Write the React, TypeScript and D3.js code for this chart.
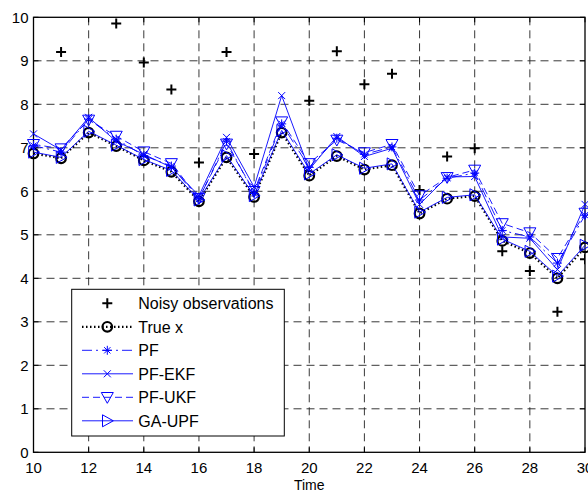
import { useEffect, useRef } from "react";
import * as d3 from "d3";

// time steps shown on the axis
const time = [10, 11, 12, 13, 14, 15, 16, 17, 18, 19, 20, 21, 22, 23, 24, 25, 26, 27, 28, 29, 30];

// noisy observations (t = 11..30), two of them fall above the axis limit
const obsTime = [11, 12, 13, 14, 15, 16, 17, 18, 19, 20, 21, 22, 23, 24, 25, 26, 27, 28, 29, 30];
const noisyObs = [9.2, 10.4, 9.86, 8.96, 8.34, 6.66, 9.2, 6.86, 10.6, 8.08, 9.22, 8.46, 8.7, 6.03, 6.8, 6.99, 4.62, 4.17, 3.23, 4.44];

const trueX = [6.87, 6.76, 7.35, 7.04, 6.71, 6.45, 5.77, 6.78, 5.87, 7.35, 6.36, 6.81, 6.5, 6.6, 5.49, 5.83, 5.89, 4.86, 4.58, 4.0, 4.71];
const pf = [7.05, 6.9, 7.66, 7.2, 6.82, 6.58, 5.82, 7.15, 5.95, 7.55, 6.55, 7.22, 6.85, 7.02, 5.8, 6.3, 6.42, 5.1, 4.95, 4.35, 5.45];
const pfEkf = [7.32, 6.95, 7.7, 7.15, 6.85, 6.55, 5.9, 7.24, 6.1, 8.2, 6.5, 7.26, 6.8, 6.99, 5.7, 6.33, 6.34, 4.95, 4.92, 4.2, 5.7];
const pfUkf = [7.08, 6.98, 7.64, 7.27, 6.91, 6.64, 5.84, 7.09, 6.0, 7.6, 6.64, 7.18, 6.89, 7.08, 5.9, 6.32, 6.49, 5.26, 5.05, 4.46, 5.5];
const gaUpf = [6.9, 6.78, 7.38, 7.06, 6.73, 6.48, 5.8, 6.82, 5.9, 7.4, 6.4, 6.84, 6.53, 6.63, 5.52, 5.86, 5.92, 4.9, 4.62, 4.05, 4.76];

const xTicks = [10, 12, 14, 16, 18, 20, 22, 24, 26, 28, 30];
const yTicks = [0, 1, 2, 3, 4, 5, 6, 7, 8, 9, 10];

const legendLabels = ["Noisy observations", "True x", "PF", "PF-EKF", "PF-UKF", "GA-UPF"];

const FONT = "'Liberation Sans', Arial, sans-serif";

function App() {
    const ref = useRef<SVGSVGElement>(null);

    useEffect(() => {
        document.body.style.margin = "0";

        const width = 588;
        const height = 492;
        const left = 33.5, right = 585, top = 17.3, bottom = 452.3;

        const x = d3.scaleLinear().domain([10, 30]).range([left, right]);
        const y = d3.scaleLinear().domain([0, 10]).range([bottom, top]);

        const svg = d3.select(ref.current);
        svg.selectAll("*").remove();
        svg.attr("width", width).attr("height", height);

        svg.append("rect").attr("width", width).attr("height", height).attr("fill", "white");

        svg.append("defs").append("clipPath").attr("id", "plotClip")
            .append("rect")
            .attr("x", left).attr("y", top)
            .attr("width", right - left).attr("height", bottom - top);

        // grid
        const grid = svg.append("g")
            .attr("stroke", "#222")
            .attr("stroke-width", 0.9)
            .attr("stroke-dasharray", "8,5");
        grid.selectAll("line.gx")
            .data(xTicks.slice(1, -1))
            .join("line")
            .attr("x1", d => x(d)).attr("x2", d => x(d))
            .attr("y1", top).attr("y2", bottom);
        grid.selectAll("line.gy")
            .data(yTicks.slice(1, -1))
            .join("line")
            .attr("class", "gy")
            .attr("x1", left).attr("x2", right)
            .attr("y1", d => y(d)).attr("y2", d => y(d));

        // ticks on all four sides, pointing inwards
        const ticks = svg.append("g").attr("stroke", "black").attr("stroke-width", 1);
        xTicks.forEach(t => {
            ticks.append("line").attr("x1", x(t)).attr("x2", x(t)).attr("y1", bottom).attr("y2", bottom - 5);
            ticks.append("line").attr("x1", x(t)).attr("x2", x(t)).attr("y1", top).attr("y2", top + 5);
        });
        yTicks.forEach(t => {
            ticks.append("line").attr("x1", left).attr("x2", left + 5).attr("y1", y(t)).attr("y2", y(t));
            ticks.append("line").attr("x1", right).attr("x2", right - 5).attr("y1", y(t)).attr("y2", y(t));
        });

        // box
        svg.append("rect")
            .attr("x", left).attr("y", top)
            .attr("width", right - left).attr("height", bottom - top)
            .attr("fill", "none").attr("stroke", "black").attr("stroke-width", 1.3);

        // tick labels
        svg.append("g")
            .attr("font-family", FONT).attr("font-size", 15).attr("text-anchor", "middle")
            .selectAll("text")
            .data(xTicks)
            .join("text")
            .attr("x", d => x(d)).attr("y", 473)
            .text(d => d);
        svg.append("g")
            .attr("font-family", FONT).attr("font-size", 15).attr("text-anchor", "end")
            .selectAll("text")
            .data(yTicks)
            .join("text")
            .attr("x", 28.5).attr("y", d => y(d) + 5.3)
            .text(d => d);
        svg.append("text")
            .attr("x", (left + right) / 2).attr("y", 490)
            .attr("text-anchor", "middle")
            .attr("font-family", FONT).attr("font-size", 14)
            .text("Time");

        const lineGen = (vals: number[]) =>
            d3.line<number>().x((_, i) => x(time[i])).y(v => y(v))(vals);

        const blue = "#0000ff";

        // marker drawers
        const plus = (g: any, cx: number, cy: number) => {
            g.append("path").attr("d", `M${cx - 5},${cy}H${cx + 5}M${cx},${cy - 5}V${cy + 5}`)
                .attr("stroke", "black").attr("stroke-width", 2).attr("fill", "none");
        };
        const circle = (g: any, cx: number, cy: number) => {
            g.append("circle").attr("cx", cx).attr("cy", cy).attr("r", 4.8)
                .attr("stroke", "black").attr("stroke-width", 2.2).attr("fill", "none");
        };
        const star = (g: any, cx: number, cy: number) => {
            const r = 4.5, k = r * 0.7;
            g.append("path")
                .attr("d", `M${cx - r},${cy}H${cx + r}M${cx},${cy - r}V${cy + r}M${cx - k},${cy - k}L${cx + k},${cy + k}M${cx - k},${cy + k}L${cx + k},${cy - k}`)
                .attr("stroke", blue).attr("stroke-width", 1).attr("fill", "none");
        };
        const cross = (g: any, cx: number, cy: number) => {
            const k = 3.5;
            g.append("path")
                .attr("d", `M${cx - k},${cy - k}L${cx + k},${cy + k}M${cx - k},${cy + k}L${cx + k},${cy - k}`)
                .attr("stroke", blue).attr("stroke-width", 1).attr("fill", "none");
        };
        const triDown = (g: any, cx: number, cy: number) => {
            const r = 6;
            g.append("path")
                .attr("d", `M${cx - r},${cy - r * 0.8}L${cx + r},${cy - r * 0.8}L${cx},${cy + r}Z`)
                .attr("stroke", blue).attr("stroke-width", 1).attr("fill", "none");
        };
        const triRight = (g: any, cx: number, cy: number) => {
            const r = 6;
            g.append("path")
                .attr("d", `M${cx - r * 0.8},${cy - r}L${cx + r},${cy}L${cx - r * 0.8},${cy + r}Z`)
                .attr("stroke", blue).attr("stroke-width", 1).attr("fill", "none");
        };

        const series = [
            { vals: trueX, color: "black", width: 2.2, dash: "1.5,2.5", marker: circle },
            { vals: pf, color: blue, width: 0.9, dash: "10,4,2,4", marker: star },
            { vals: pfEkf, color: blue, width: 0.9, dash: null, marker: cross },
            { vals: pfUkf, color: blue, width: 0.9, dash: "7,4", marker: triDown },
            { vals: gaUpf, color: blue, width: 0.9, dash: null, marker: triRight },
        ];

        // noisy observations, clipped at the axes
        const obsG = svg.append("g").attr("clip-path", "url(#plotClip)");
        noisyObs.forEach((v, i) => plus(obsG, x(obsTime[i]), y(v)));

        series.forEach(s => {
            const g = svg.append("g");
            g.append("path")
                .attr("d", lineGen(s.vals))
                .attr("fill", "none")
                .attr("stroke", s.color)
                .attr("stroke-width", s.width)
                .attr("stroke-dasharray", s.dash);
            s.vals.forEach((v, i) => s.marker(g, x(time[i]), y(v)));
        });

        // legend
        const lg = svg.append("g");
        lg.append("rect")
            .attr("x", 71.7).attr("y", 289.3)
            .attr("width", 212.6).attr("height", 146.7)
            .attr("fill", "white").attr("stroke", "black").attr("stroke-width", 1);
        const rowY = (i: number) => 303.3 + i * 23.5;
        const mx = 107.3;
        legendLabels.forEach((label, i) => {
            const cy = rowY(i);
            if (i === 0) {
                plus(lg, mx, cy);
            } else {
                const s = series[i - 1];
                lg.append("line")
                    .attr("x1", 82).attr("x2", 133).attr("y1", cy).attr("y2", cy)
                    .attr("stroke", s.color).attr("stroke-width", s.width)
                    .attr("stroke-dasharray", s.dash);
                s.marker(lg, mx, cy);
            }
            lg.append("text")
                .attr("x", 138.3).attr("y", cy + 5.8)
                .attr("font-family", FONT).attr("font-size", 16)
                .text(label);
        });
    }, []);

    return <svg ref={ref} style={{ display: "block" }}></svg>;
}

export default App;
